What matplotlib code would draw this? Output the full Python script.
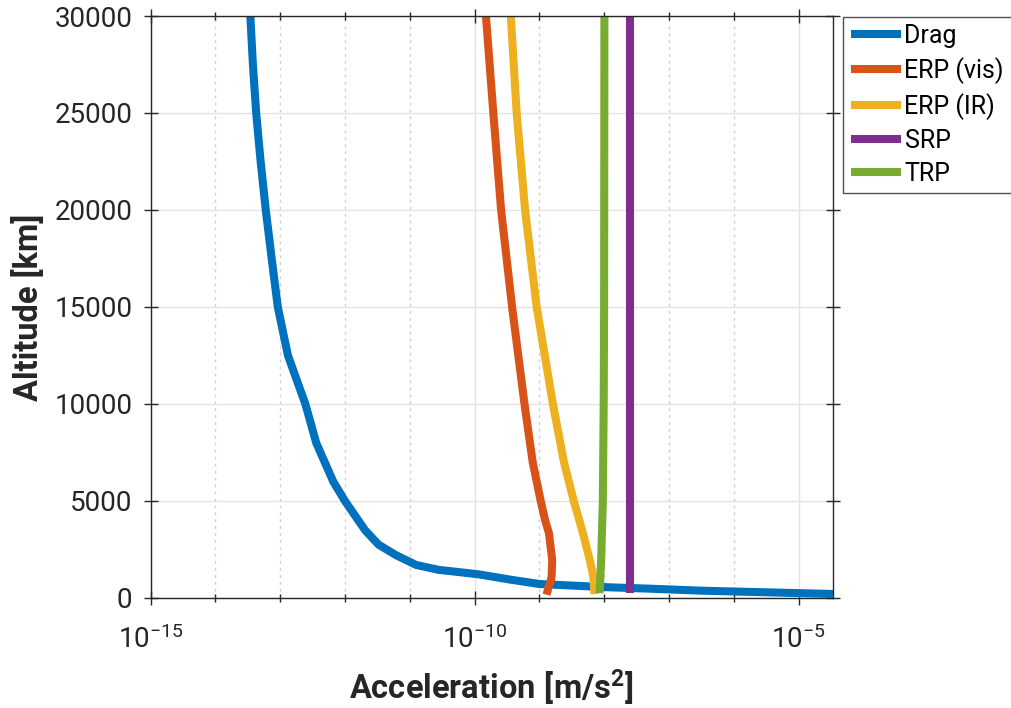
import numpy as np
import matplotlib
matplotlib.use("Agg")
from matplotlib import pyplot as plt
from matplotlib import ticker

plt.rcParams['font.family'] = ['Roboto', 'DejaVu Sans']
plt.rcParams['mathtext.fontset'] = 'custom'
plt.rcParams['mathtext.rm'] = 'Roboto'
plt.rcParams['mathtext.it'] = 'Roboto:italic'
plt.rcParams['mathtext.bf'] = 'Roboto:bold'

# altitude [km] vs. acceleration [m/s^2] for each perturbation
drag_alt = [30000, 27500, 25000, 22500, 20000, 17500, 15000, 12500, 10000,
            8000, 6000, 5000, 3500, 2750, 2200, 1700, 1450, 1300, 1205, 950,
            720, 560, 480, 376, 206]
drag_acc = [3.47e-14, 3.8e-14, 4.27e-14, 5.0e-14, 6.0e-14, 7.4e-14, 9.2e-14,
            1.32e-13, 2.45e-13, 3.6e-13, 6.6e-13, 1.0e-12, 2.04e-12, 3.3e-12,
            6.2e-12, 1.26e-11, 2.8e-11, 7.1e-11, 1.23e-10, 3.5e-10, 1.0e-9,
            1.0e-8, 5.0e-8, 3.2e-7, 3.4e-5]

erp_vis_alt = [30000, 25000, 20000, 15000, 10000, 7000, 5000, 4000, 3330,
               2500, 1960, 1120, 800, 580, 400, 170]
erp_vis_acc = [1.5e-10, 1.95e-10, 2.57e-10, 3.8e-10, 5.9e-10, 7.9e-10,
               1.05e-9, 1.23e-9, 1.41e-9, 1.51e-9, 1.58e-9, 1.55e-9, 1.48e-9,
               1.38e-9, 1.35e-9, 1.29e-9]

erp_ir_alt = [30000, 25000, 20000, 15000, 10000, 7000, 5000, 3350, 1960,
              1120, 200]
erp_ir_acc = [3.63e-10, 4.47e-10, 6.03e-10, 9.1e-10, 1.62e-9, 2.4e-9, 3.4e-9,
              4.7e-9, 6.0e-9, 6.8e-9, 7.1e-9]

srp_alt = [30000, 240]
srp_acc = [2.5e-8, 2.5e-8]

trp_alt = [30000, 15000, 10000, 5000, 1960, 250]
trp_acc = [1.01e-8, 1.0e-8, 9.85e-9, 9.55e-9, 9.0e-9, 8.5e-9]

fig = plt.figure(figsize=(10.11, 7.08), dpi=100)
ax = fig.add_axes([0.1489, 0.1554, 0.675, 0.822])

lw = 5.8
style = dict(lw=lw, solid_capstyle='butt', solid_joinstyle='round')
ax.plot(drag_acc, drag_alt, color='#0072BD', label='Drag', **style)
ax.plot(erp_vis_acc, erp_vis_alt, color='#D95319', label='ERP (vis)', **style)
ax.plot(erp_ir_acc, erp_ir_alt, color='#EDB120', label='ERP (IR)', **style)
ax.plot(srp_acc, srp_alt, color='#7E2F8E', label='SRP', **style)
ax.plot(trp_acc, trp_alt, color='#77AC30', label='TRP', **style)

ax.set_xscale('log')
ax.set_xlim(1e-15, max(drag_acc))
ax.set_ylim(0, 30000)
ax.xaxis.set_major_locator(ticker.FixedLocator([1e-15, 1e-10, 1e-5]))
ax.xaxis.set_minor_locator(ticker.FixedLocator([10.0**k for k in range(-15, -4)]))
ax.xaxis.set_minor_formatter(ticker.NullFormatter())
ax.yaxis.set_major_locator(ticker.MultipleLocator(5000))

ax.grid(True, which='major', color='#e3e3e3', lw=1, ls='-')
ax.grid(True, which='minor', axis='x', color='#cfcfcf', lw=1, ls=(0, (2, 3)))
ax.set_axisbelow(True)

for s in ax.spines.values():
    s.set_color('#262626')
    s.set_linewidth(1.0)
ax.tick_params(which='both', direction='inout', top=True, right=True,
               colors='#262626', labelsize=20, width=1)
ax.tick_params(which='major', length=10, pad=8)
ax.tick_params(which='minor', length=6)
ax.tick_params(axis='x', which='major', pad=15)

ax.set_xlabel(r'$\mathbf{Acceleration\ [m/s^2]}$', fontsize=23.5, color='#262626', labelpad=9)
ax.set_ylabel('Altitude [km]', fontsize=23.5, fontweight='bold', color='#262626', labelpad=7)

leg = ax.legend(loc='upper left', bbox_to_anchor=(843 / 1011, 1 - 16.5 / 708),
                bbox_transform=fig.transFigure, fontsize=18, frameon=True,
                fancybox=False, edgecolor='#262626', borderpad=0.3,
                labelspacing=0.36, handlelength=2.0, handletextpad=0.16,
                borderaxespad=0)
leg.get_frame().set_linewidth(1.0)

fig.savefig('out.png', dpi=100)
